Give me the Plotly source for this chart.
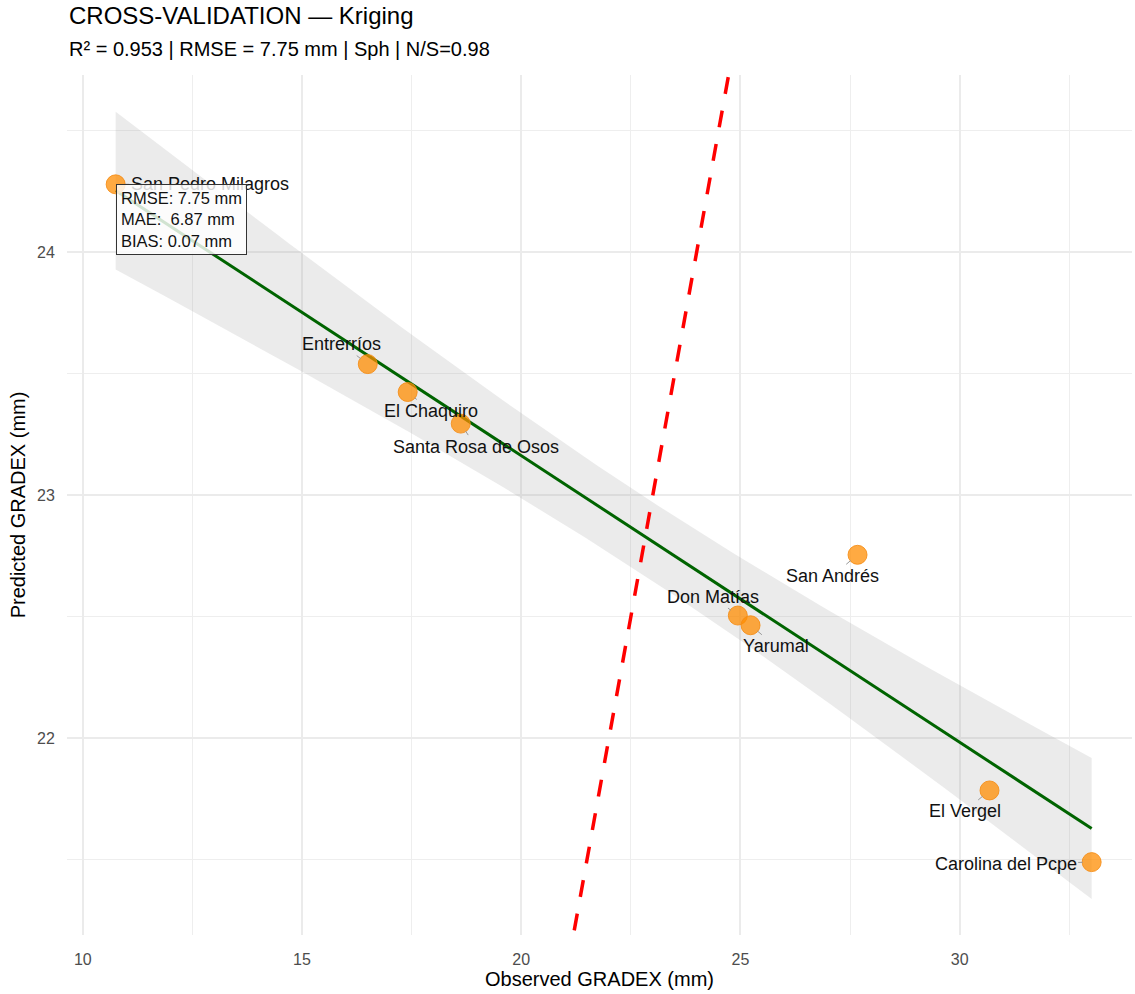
import numpy as np
import plotly.graph_objects as go

# ---------------- data ----------------
stations = ["San Pedro Milagros", "Entrerríos", "El Chaquiro", "Santa Rosa de Osos",
            "San Andrés", "Don Matías", "Yarumal", "El Vergel", "Carolina del Pcpe"]
observed = [10.75, 16.50, 17.41, 18.62, 27.67, 24.94, 25.23, 30.68, 33.01]
predicted = [24.28, 23.54, 23.425, 23.295, 22.755, 22.505, 22.465, 21.785, 21.49]
# label offsets (pixels) as placed by the repel layout
label_dx = [94, -26, 23, 15, -25, -25, 25, -25, -86]
label_dy = [0, -20, 19, 23, 21, -19, 21, 21, 2]

title_text = "CROSS-VALIDATION — Kriging"
subtitle_text = "R² = 0.953 | RMSE = 7.75 mm | Sph | N/S=0.98"
metrics_text = "RMSE: 7.75 mm<br>MAE:\u00a0 6.87 mm<br>BIAS: 0.07 mm"
x_title = "Observed GRADEX (mm)"
y_title = "Predicted GRADEX (mm)"
x_ticks = [10, 15, 20, 25, 30]
y_ticks = [22, 23, 24]
x_limits = [9.64, 33.93]
y_limits = [21.19, 24.73]

# ---------------- linear fit + 95% CI ----------------
xo = np.array(observed)
yo = np.array(predicted)
n = len(xo)
b1, b0 = np.polyfit(xo, yo, 1)
resid = yo - (b0 + b1 * xo)
s = np.sqrt(np.sum(resid ** 2) / (n - 2))
sxx = np.sum((xo - xo.mean()) ** 2)
t_crit = 2.364624  # t(0.975, df=7)
xg = np.linspace(xo.min(), xo.max(), 80)
yg = b0 + b1 * xg
se = s * np.sqrt(1.0 / n + (xg - xo.mean()) ** 2 / sxx)
lo = yg - t_crit * se
hi = yg + t_crit * se

FONT = "Liberation Sans, Arial, sans-serif"

fig = go.Figure()

# confidence band
fig.add_trace(go.Scatter(
    x=np.concatenate([xg, xg[::-1]]), y=np.concatenate([hi, lo[::-1]]),
    fill="toself", fillcolor="rgba(153,153,153,0.2)", line=dict(width=0),
    mode="lines", hoverinfo="skip", showlegend=False))
# regression line
fig.add_trace(go.Scatter(x=xg, y=yg, mode="lines",
                         line=dict(color="#006400", width=3), showlegend=False))
# 1:1 line
fig.add_trace(go.Scatter(x=x_limits, y=x_limits, mode="lines",
                         line=dict(color="#FF0000", width=3.5, dash="17px,17px"),
                         showlegend=False))
# points
fig.add_trace(go.Scatter(x=observed, y=predicted, mode="markers",
                         marker=dict(size=19, color="rgba(255,140,0,0.74)",
                                     line=dict(width=1, color="rgba(245,140,20,0.85)")),
                         text=stations, showlegend=False))

annotations = []
for name, xv, yv, dx, dy in zip(stations, observed, predicted, label_dx, label_dy):
    annotations.append(dict(
        x=xv, y=yv, xref="x", yref="y", text=name, showarrow=True,
        ax=dx, ay=dy, axref="pixel", ayref="pixel",
        arrowhead=0, arrowwidth=1, arrowcolor="#999999", standoff=9,
        font=dict(family=FONT, size=18, color="#111111")))

# metrics box
annotations.append(dict(
    x=min(observed), y=max(predicted), xref="x", yref="y", xanchor="left", yanchor="top",
    text=metrics_text, showarrow=False, align="left",
    font=dict(family=FONT, size=16.5, color="#111111"),
    bgcolor="rgba(255,255,255,0.82)", bordercolor="#333333", borderwidth=1, borderpad=4))

# title & subtitle
annotations.append(dict(x=0, y=1.0691, xref="paper", yref="paper", xanchor="left",
                        yanchor="middle", text=title_text, showarrow=False,
                        font=dict(family=FONT, size=24, color="#000000")))
annotations.append(dict(x=0, y=1.0302, xref="paper", yref="paper", xanchor="left",
                        yanchor="middle", text=subtitle_text, showarrow=False,
                        font=dict(family=FONT, size=20, color="#000000")))

fig.update_layout(
    width=1135, height=994,
    margin=dict(l=67, r=3, t=75, b=59),
    paper_bgcolor="white", plot_bgcolor="white",
    showlegend=False,
    annotations=annotations,
    font=dict(family=FONT),
)
fig.update_xaxes(
    range=x_limits, tickvals=x_ticks, ticks="outside", ticklen=10,
    tickcolor="rgba(0,0,0,0)", showline=False, zeroline=False,
    showgrid=True, gridcolor="#EBEBEB", gridwidth=2,
    minor=dict(dtick=2.5, tick0=0, showgrid=True, gridcolor="#EEEEEE", gridwidth=1.2),
    tickfont=dict(family=FONT, size=16, color="#4D4D4D"),
    title=dict(text=x_title, font=dict(family=FONT, size=20, color="#000000"), standoff=4))
fig.update_yaxes(
    range=y_limits, tickvals=y_ticks, ticks="outside", ticklen=8,
    tickcolor="rgba(0,0,0,0)", showline=False, zeroline=False,
    showgrid=True, gridcolor="#EBEBEB", gridwidth=2,
    minor=dict(dtick=0.5, tick0=0, showgrid=True, gridcolor="#EEEEEE", gridwidth=1.2),
    tickfont=dict(family=FONT, size=16, color="#4D4D4D"),
    title=dict(text=y_title, font=dict(family=FONT, size=20, color="#000000"), standoff=6))

fig.write_html("out.html", config={"displayModeBar": False},
               post_script="document.body.style.margin='0';document.body.style.overflow='hidden';")
